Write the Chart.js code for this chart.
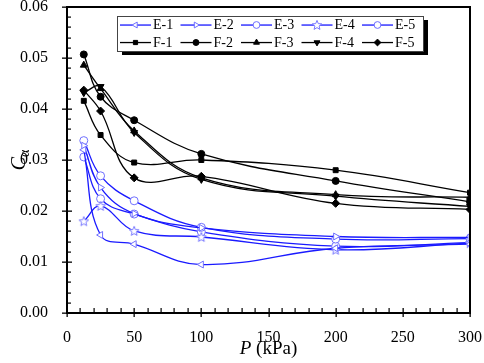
<!DOCTYPE html>
<html>
<head>
<meta charset="utf-8">
<script src="https://cdn.jsdelivr.net/npm/chart.js@4/dist/chart.umd.min.js"></script>
<style>
  html, body { margin: 0; padding: 0; background: #fff; }
</style>
</head>
<body>
<canvas id="chart" width="484" height="363"></canvas>
<script>
// pressures (kPa)
const pressures = [12.5, 25, 50, 100, 200, 300];

// C_alpha values
const e1 = [0.0320, 0.0153, 0.0135, 0.0095, 0.0127, 0.0135];
const e2 = [0.0328, 0.0246, 0.0195, 0.0167, 0.0150, 0.0148];
const e3 = [0.0338, 0.0269, 0.0220, 0.0168, 0.0145, 0.0146];
const e4 = [0.0180, 0.0210, 0.0161, 0.0149, 0.0124, 0.0137];
const e5 = [0.0306, 0.0224, 0.0194, 0.0159, 0.0131, 0.0138];

const f1 = [0.0416, 0.0349, 0.0295, 0.0300, 0.0280, 0.0236];
const f2 = [0.0507, 0.0424, 0.0378, 0.0312, 0.0259, 0.0218];
const f3 = [0.0486, 0.0440, 0.0357, 0.0265, 0.0232, 0.0227];
const f4 = [0.0432, 0.0444, 0.0354, 0.0262, 0.0229, 0.0209];
const f5 = [0.0437, 0.0396, 0.0265, 0.0268, 0.0215, 0.0203];

const xTicks = [0, 50, 100, 150, 200, 250, 300];
const yTicks = [0, 0.01, 0.02, 0.03, 0.04, 0.05, 0.06];

const BLUE = '#1a1aff';
const FONT = '"Liberation Serif", "Times New Roman", serif';

// open 5-point star marker
function makeStar() {
  const c = document.createElement('canvas');
  c.width = 12; c.height = 12;
  const g = c.getContext('2d');
  g.beginPath();
  for (let i = 0; i < 10; i++) {
    const r = i % 2 === 0 ? 5 : 2.2;
    const a = -Math.PI / 2 + i * Math.PI / 5;
    const px = 6 + r * Math.cos(a), py = 6.4 + r * Math.sin(a);
    if (i === 0) g.moveTo(px, py); else g.lineTo(px, py);
  }
  g.closePath();
  g.fillStyle = '#fff';
  g.fill();
  g.strokeStyle = '#7a7aff';
  g.lineWidth = 1;
  g.stroke();
  return c;
}
const starImg = makeStar();

function pts(arr) {
  return arr.map((v, i) => ({ x: pressures[i], y: v }));
}

function eSet(label, arr, style, rot) {
  return {
    label, data: pts(arr),
    borderColor: BLUE, borderWidth: 1.3,
    pointStyle: style, pointRotation: rot || 0,
    pointRadius: 4, pointBorderWidth: 1,
    pointBorderColor: '#7070ff', pointBackgroundColor: '#fff',
    tension: 0.4, fill: false
  };
}
function fSet(label, arr, style, rot, r) {
  return {
    label, data: pts(arr),
    borderColor: '#000', borderWidth: 1.3,
    pointStyle: style, pointRotation: rot || 0,
    pointRadius: r || 3.5, pointBorderWidth: 1,
    pointBorderColor: '#000', pointBackgroundColor: '#000',
    tension: 0.4, fill: false
  };
}

const datasets = [
  eSet('E-1', e1, 'triangle', -90),
  eSet('E-2', e2, 'triangle', 90),
  eSet('E-3', e3, 'circle'),
  eSet('E-4', e4, starImg),
  eSet('E-5', e5, 'circle'),
  fSet('F-1', f1, 'rect', 0, 3.5),
  fSet('F-2', f2, 'circle', 0, 3.5),
  fSet('F-3', f3, 'triangle', 0, 4),
  fSet('F-4', f4, 'triangle', 180, 4),
  fSet('F-5', f5, 'rectRot', 0, 4)
];

// frame and minor/major ticks, drawn with filled rects
const frame = {
  id: 'frame',
  afterDraw(chart) {
    const ctx = chart.ctx;
    const a = chart.chartArea;
    const xs = chart.scales.x, ys = chart.scales.y;
    const L = Math.round(a.left), R = Math.round(a.right);
    const T = Math.round(a.top), B = Math.round(a.bottom);
    ctx.save();
    ctx.fillStyle = '#000';
    ctx.fillRect(L - 1, T - 1, R - L + 2, 2);
    ctx.fillRect(L - 1, B - 1, R - L + 2, 2);
    ctx.fillRect(L - 1, T - 1, 2, B - T + 2);
    ctx.fillRect(R - 1, T - 1, 2, B - T + 2);
    for (let v = 0; v <= 300; v += 10) {
      const px = Math.round(xs.getPixelForValue(v));
      if (v % 50 === 0) ctx.fillRect(px - 0.5, B - 5, 1.3, 9);
      else ctx.fillRect(px - 0.5, B - 5, 1.2, 5);
    }
    for (let k = 0; k <= 30; k++) {
      const py = Math.round(ys.getPixelForValue(k * 0.002));
      if (k % 5 === 0) ctx.fillRect(L - 5, py - 0.5, 10, 1.3);
      else ctx.fillRect(L, py - 0.5, 4, 1.2);
    }
    ctx.restore();
  }
};

// axis titles and the boxed legend
const decor = {
  id: 'decor',
  afterDraw(chart) {
    const ctx = chart.ctx;
    const a = chart.chartArea;
    ctx.save();

    // x title
    ctx.fillStyle = '#000';
    ctx.textBaseline = 'middle';
    ctx.textAlign = 'left';
    const cx = (a.left + a.right) / 2;
    ctx.font = 'italic 19px ' + FONT;
    const wP = ctx.measureText('P').width;
    ctx.font = '19px ' + FONT;
    const wRest = ctx.measureText(' (kPa)').width;
    const sx = cx - (wP + wRest) / 2;
    ctx.font = 'italic 19px ' + FONT;
    ctx.fillText('P', sx, 349);
    ctx.font = '19px ' + FONT;
    ctx.fillText(' (kPa)', sx + wP, 349);

    // y title: C with subscript alpha
    ctx.save();
    ctx.translate(20, (a.top + a.bottom) / 2);
    ctx.rotate(-Math.PI / 2);
    ctx.font = 'italic 20px ' + FONT;
    const wC = ctx.measureText('C').width;
    ctx.font = '14px ' + FONT;
    const wA = ctx.measureText('α').width;
    const st = -(wC + wA) / 2;
    ctx.font = 'italic 20px ' + FONT;
    ctx.fillText('C', st, 0);
    ctx.font = '14px ' + FONT;
    ctx.fillText('α', st + wC, 5);
    ctx.restore();

    // legend box with drop shadow
    const bx = 117, by = 16, bw = 306, bh = 35;
    ctx.fillStyle = '#000';
    ctx.fillRect(bx + 5, by + 4, bw, bh);
    ctx.fillStyle = '#444';
    ctx.fillRect(bx, by, bw + 1, bh + 1);
    ctx.fillStyle = '#fff';
    ctx.fillRect(bx + 1, by + 1, bw - 1, bh - 1);

    ctx.font = '14px ' + FONT;
    ctx.textBaseline = 'middle';
    chart.data.datasets.forEach((ds, i) => {
      const col = i % 5;
      const lx = 120 + col * 60.5;
      const ly = i < 5 ? 25 : 42.5;
      ctx.fillStyle = ds.borderColor;
      ctx.fillRect(lx, ly - 0.6, 31, 1.3);
      ctx.fillStyle = ds.pointBackgroundColor;
      ctx.strokeStyle = ds.pointBorderColor;
      ctx.lineWidth = 1;
      Chart.helpers.drawPoint(ctx, {
        pointStyle: ds.pointStyle, rotation: ds.pointRotation,
        radius: ds.pointRadius * 0.85, borderWidth: 1
      }, lx + 15.5, ly);
      ctx.fillStyle = '#000';
      ctx.textAlign = 'left';
      ctx.fillText(ds.label, lx + 33, ly + 0.5);
    });
    ctx.restore();
  }
};

new Chart(document.getElementById('chart'), {
  type: 'line',
  data: { datasets },
  options: {
    responsive: false,
    animation: false,
    layout: { padding: { left: 0, right: 14, top: 7, bottom: 0 } },
    plugins: { legend: { display: false }, tooltip: { enabled: false } },
    scales: {
      x: {
        type: 'linear', min: 0, max: 300,
        grid: { display: false },
        border: { display: false },
        afterBuildTicks: s => { s.ticks = xTicks.map(v => ({ value: v })); },
        afterFit: s => { s.height = 50; s.paddingLeft = 0; s.paddingRight = 0; },
        ticks: { color: '#000', padding: 7, maxRotation: 0, font: { family: FONT, size: 16 } }
      },
      y: {
        type: 'linear', min: 0, max: 0.06,
        grid: { display: false },
        border: { display: false },
        afterBuildTicks: s => { s.ticks = yTicks.map(v => ({ value: v })); },
        afterFit: s => { s.width = 67; s.paddingTop = 0; s.paddingBottom = 0; },
        ticks: {
          color: '#000', padding: 11, font: { family: FONT, size: 16 },
          callback: v => v.toFixed(2)
        }
      }
    }
  },
  plugins: [frame, decor]
});
</script>
</body>
</html>
